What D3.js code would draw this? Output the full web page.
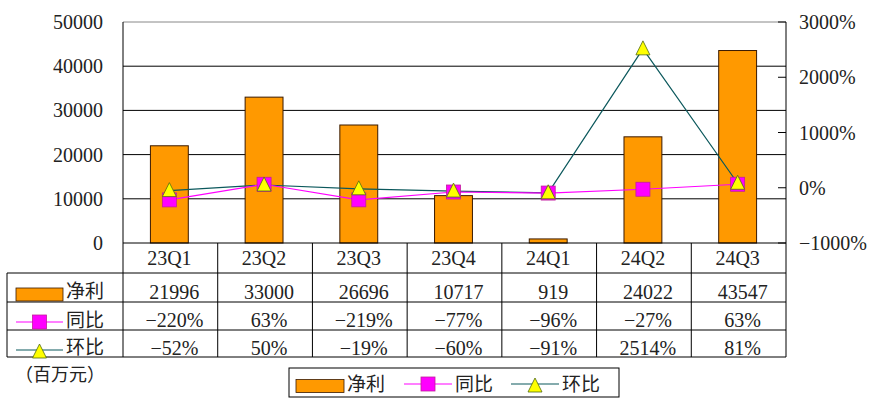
<!DOCTYPE html>
<html>
<head>
<meta charset="utf-8">
<script src="https://cdn.jsdelivr.net/npm/d3@7"></script>
<style>
  body { margin: 0; background: #fff; }
  svg text { font-family: "Liberation Serif", "Times New Roman", "DejaVu Serif", serif; fill: #222; }
  svg text.cjk { font-family: "Noto Sans CJK SC", sans-serif; }
</style>
</head>
<body>
<svg width="877" height="414"></svg>
<script>
// quarterly data
const quarters = ['23Q1', '23Q2', '23Q3', '23Q4', '24Q1', '24Q2', '24Q3'];
const netProfit = [21996, 33000, 26696, 10717, 919, 24022, 43547];
const yoy = [-220, 63, -219, -77, -96, -27, 63];
const qoq = [-52, 50, -19, -60, -91, 2514, 81];
const leftTicks = [0, 10000, 20000, 30000, 40000, 50000];
const rightTicks = [-1000, 0, 1000, 2000, 3000];
const rowNames = ['净利', '同比', '环比'];

const svg = d3.select('svg');
const plotL = 123, plotR = 786, plotT = 22, plotB = 243;
const rowLines = [243, 273, 302, 330, 357];
const tableLeft = 7;

const orange = '#FF9900', magenta = '#FF00FF', teal = '#0B585C';

const x = d3.scaleBand().domain(quarters).range([plotL, plotR]);
const yL = d3.scaleLinear().domain([0, 50000]).range([plotB, plotT]);
const yR = d3.scaleLinear().domain([-1000, 3000]).range([plotB, plotT]);
const cx = q => x(q) + x.bandwidth() / 2 - 1;
const minus = s => String(s).replace('-', '\u2212');

// gridlines
svg.append('g').selectAll('line')
  .data(leftTicks.slice(1))
  .join('line')
  .attr('x1', plotL).attr('x2', plotR)
  .attr('y1', d => yL(d)).attr('y2', d => yL(d))
  .attr('stroke', d => d === 50000 ? '#888' : '#000')
  .attr('stroke-width', 1);

// left axis labels
svg.append('g').selectAll('text')
  .data(leftTicks)
  .join('text')
  .attr('x', 103).attr('y', d => yL(d))
  .attr('dy', '0.35em')
  .attr('text-anchor', 'end')
  .attr('font-size', 20)
  .text(d => d);

// right axis ticks + labels
svg.append('g').selectAll('line')
  .data(rightTicks)
  .join('line')
  .attr('x1', plotR - 8).attr('x2', plotR)
  .attr('y1', d => yR(d)).attr('y2', d => yR(d))
  .attr('stroke', '#000');
svg.append('g').selectAll('text')
  .data(rightTicks)
  .join('text')
  .attr('x', 799).attr('y', d => yR(d))
  .attr('dy', '0.35em')
  .attr('font-size', 20)
  .text(d => minus(d) + '%');

// bars
const barW = x.bandwidth() * 0.4;
svg.append('g').selectAll('rect')
  .data(netProfit)
  .join('rect')
  .attr('x', (d, i) => cx(quarters[i]) - barW / 2)
  .attr('y', d => yL(d))
  .attr('width', barW)
  .attr('height', d => plotB - yL(d))
  .attr('fill', orange)
  .attr('stroke', '#3a1a00')
  .attr('stroke-width', 1);

// axis lines
svg.append('line').attr('x1', plotL).attr('x2', plotL).attr('y1', plotT).attr('y2', rowLines[4]).attr('stroke', '#000');
svg.append('line').attr('x1', plotR).attr('x2', plotR).attr('y1', plotT).attr('y2', rowLines[4]).attr('stroke', '#000');

// lines
const line = (arr) => d3.line().x((d, i) => cx(quarters[i])).y(d => yR(d))(arr);
svg.append('path').attr('d', line(qoq)).attr('fill', 'none').attr('stroke', teal).attr('stroke-width', 1.2);
svg.append('path').attr('d', line(yoy)).attr('fill', 'none').attr('stroke', magenta).attr('stroke-width', 1.2);

const square = (g, px, py) => g.append('rect')
  .attr('x', px - 7).attr('y', py - 7).attr('width', 14).attr('height', 14)
  .attr('fill', magenta).attr('stroke', '#C0209A').attr('stroke-width', 0.8);
const triangle = (g, px, py) => g.append('path')
  .attr('d', `M${px},${py - 8}L${px + 7},${py + 6}L${px - 7},${py + 6}Z`)
  .attr('fill', '#FFFF00').attr('stroke', '#4F6A10').attr('stroke-width', 0.8);

const marks = svg.append('g');
yoy.forEach((d, i) => square(marks, cx(quarters[i]), yR(d)));
qoq.forEach((d, i) => triangle(marks, cx(quarters[i]), yR(d)));

// table grid
const tg = svg.append('g').attr('stroke', '#000').attr('stroke-width', 1);
rowLines.forEach((yy, k) => {
  tg.append('line').attr('x1', k === 0 ? plotL : tableLeft).attr('x2', plotR).attr('y1', yy).attr('y2', yy);
});
tg.append('line').attr('x1', tableLeft).attr('x2', tableLeft).attr('y1', rowLines[1]).attr('y2', rowLines[4]);
quarters.slice(1).forEach(q => {
  tg.append('line').attr('x1', x(q)).attr('x2', x(q)).attr('y1', rowLines[0]).attr('y2', rowLines[4]);
});

// category labels
svg.append('g').selectAll('text')
  .data(quarters)
  .join('text')
  .attr('x', d => cx(d)).attr('y', 258)
  .attr('dy', '0.35em')
  .attr('text-anchor', 'middle')
  .attr('font-size', 20)
  .text(d => d);

// table values
const rows = [netProfit.map(String), yoy.map(d => d + '%'), qoq.map(d => d + '%')];
const rowY = [291.5, 320, 347.5];
rows.forEach((vals, r) => {
  svg.append('g').selectAll('text')
    .data(vals)
    .join('text')
    .attr('x', (d, i) => cx(quarters[i]) + 5).attr('y', rowY[r])
    .attr('dy', '0.35em')
    .attr('text-anchor', 'middle')
    .attr('font-size', 20)
    .text(d => minus(d));
});

// table row labels with legend keys
const key = (g, kind, x0, x1, yy) => {
  if (kind === 0) {
    g.append('rect').attr('x', x0).attr('y', yy - 6).attr('width', x1 - x0).attr('height', 13)
      .attr('fill', orange).attr('stroke', '#3a1a00').attr('stroke-width', 0.8);
  } else if (kind === 1) {
    g.append('line').attr('x1', x0).attr('x2', x1).attr('y1', yy).attr('y2', yy).attr('stroke', magenta).attr('stroke-width', 1.2);
    square(g, (x0 + x1) / 2, yy);
  } else {
    g.append('line').attr('x1', x0).attr('x2', x1).attr('y1', yy).attr('y2', yy).attr('stroke', teal).attr('stroke-width', 1.2);
    triangle(g, (x0 + x1) / 2, yy + 2);
  }
};
const rk = svg.append('g');
rowNames.forEach((n, r) => {
  const yy = r === 0 ? 294 : rowY[r] + 2;
  key(rk, r, 16, 63, r === 2 ? 350 : yy);
  rk.append('text').attr('class', 'cjk').attr('x', 66).attr('y', rowY[r])
    .attr('dy', '0.35em').attr('font-size', 19).text(n);
});

// unit
svg.append('text').attr('class', 'cjk').attr('x', 15).attr('y', 375)
  .attr('dy', '0.35em').attr('font-size', 18)
  .text('（百万元）');

// legend
const lg = svg.append('g');
lg.append('rect').attr('x', 289).attr('y', 368).attr('width', 330).attr('height', 29)
  .attr('fill', '#fff').attr('stroke', '#000');
key(lg, 0, 296, 344, 385.5);
lg.append('text').attr('class', 'cjk').attr('x', 347).attr('y', 384).attr('dy', '0.35em').attr('font-size', 19).text('净利');
key(lg, 1, 404, 452, 384);
lg.append('text').attr('class', 'cjk').attr('x', 455).attr('y', 384).attr('dy', '0.35em').attr('font-size', 19).text('同比');
key(lg, 2, 511, 559, 384);
lg.append('text').attr('class', 'cjk').attr('x', 562).attr('y', 384).attr('dy', '0.35em').attr('font-size', 19).text('环比');
</script>
</body>
</html>
